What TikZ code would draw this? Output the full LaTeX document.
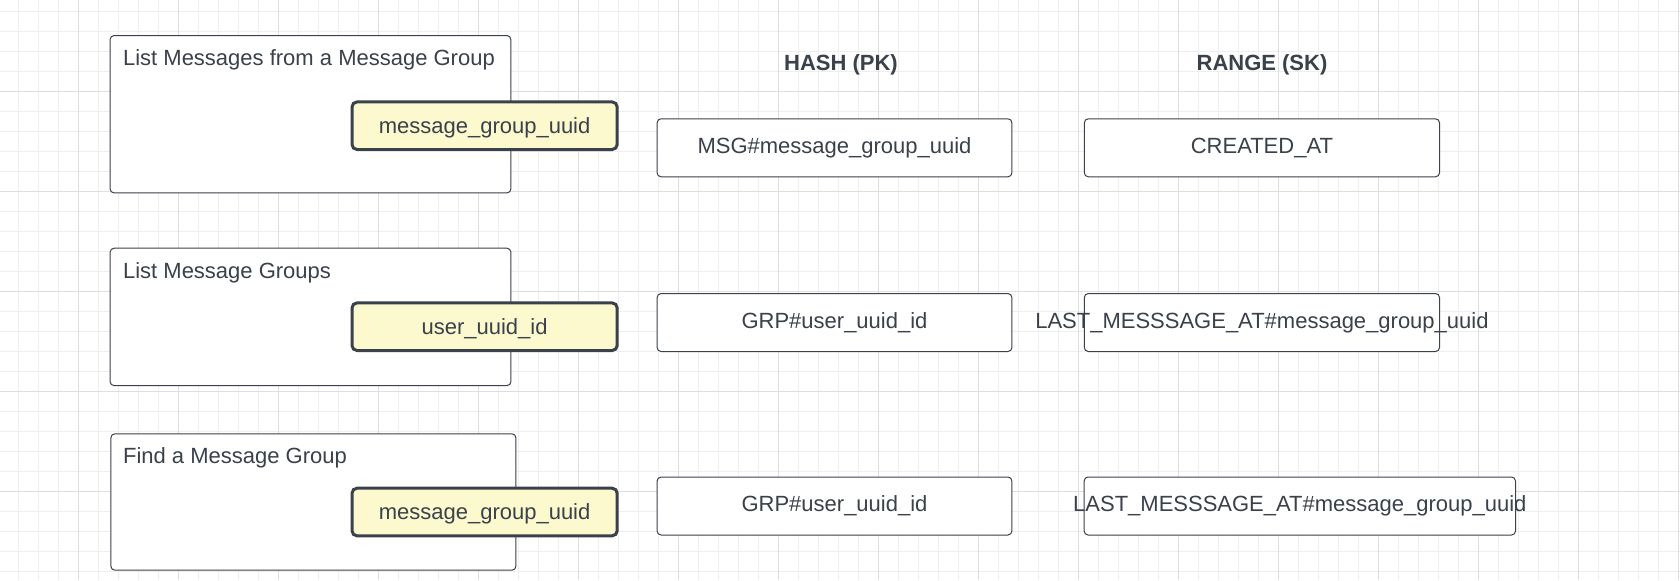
\documentclass[tikz,border=0pt]{standalone}
\usepackage{fontspec}
\setmainfont{Liberation Sans}
\usetikzlibrary{positioning}
\definecolor{ink}{HTML}{3A414A}
\definecolor{note}{HTML}{FCF9CF}
\definecolor{minorgrid}{HTML}{EEEEEE}
\definecolor{majorgrid}{HTML}{DEDEDE}
\tikzset{
    txt/.style={text=ink, inner sep=0pt, text height=8pt, text depth=2.5pt,
        font=\fontsize{11pt}{13pt}\selectfont},
    query/.style={draw=ink, line width=0.5pt, rounded corners=2pt, fill=white, inner sep=0pt},
    keybox/.style={txt, draw=ink, line width=1.5pt, rounded corners=2.5pt, fill=note,
        text height=9pt, text depth=1.5pt,
        minimum width=132.6pt, minimum height=23.8pt},
    attr/.style={txt, draw=ink, line width=0.5pt, rounded corners=2pt, fill=white,
        minimum height=29pt},
}

\begin{document}
\begin{tikzpicture}[x=0.5pt, y=-0.5pt]
        \useasboundingbox[fill=white] (0,0) rectangle (1680,580);
        % grid
        \foreach \gx in {18.6,38.6,...,1680} \draw[minorgrid, line width=0.5pt] (\gx,0) -- (\gx,580);
        \foreach \gy in {11.7,31.7,...,580} \draw[minorgrid, line width=0.5pt] (0,\gy) -- (1680,\gy);
        \foreach \gx in {78.6,178.6,...,1680} \draw[majorgrid, line width=0.5pt] (\gx,0) -- (\gx,580);
        \foreach \gy in {91.7,191.7,...,580} \draw[majorgrid, line width=0.5pt] (0,\gy) -- (1680,\gy);

        \node[txt, font=\fontsize{11pt}{13pt}\selectfont\bfseries] (hash) at (841,65.2) {HASH (PK)};
        \node[txt, font=\fontsize{11pt}{13pt}\selectfont\bfseries] (range) at (1262,65.2) {RANGE (SK)};

        \node[query, minimum width=200.4pt, minimum height=78.7pt] (b1) at (310.5,114.2) {};
        \node[query, minimum width=200.4pt, minimum height=68.7pt] (b2) at (310.5,316.9) {};
        \node[query, minimum width=202.5pt, minimum height=68.2pt] (b3) at (313.4,502) {};
        \node[txt, anchor=west] (t1) at (122.7,60.2) {List Messages from a Message Group};
        \node[txt, anchor=west] (t2) at (122.7,272.8) {List Message Groups};
        \node[txt, anchor=west] (t3) at (122.7,457.8) {Find a Message Group};

        \node[keybox] (k1) at (484.6,125.7) {message\_group\_uuid};
        \node[keybox] (k2) at (484.6,326.7) {user\_uuid\_id};
        \node[keybox] (k3) at (484.6,512) {message\_group\_uuid};

        \node[attr, minimum width=177.4pt] (h1) at (834.5,147.8) {MSG\#message\_group\_uuid};
        \node[attr, minimum width=177.4pt] (h2) at (834.5,322.5) {GRP\#user\_uuid\_id};
        \node[attr, minimum width=177.4pt] (h3) at (834.5,506) {GRP\#user\_uuid\_id};

        \node[attr, minimum width=177.6pt] (r1) at (1261.9,147.8) {CREATED\_AT};
        \node[attr, minimum width=177.6pt] (r2) at (1261.9,322.5) {};
        \node[attr, minimum width=215.7pt] (r3) at (1299.8,506) {};
        \node[txt] (r2t) at (r2) {LAST\_MESSSAGE\_AT\#message\_group\_uuid};
        \node[txt] (r3t) at (r3) {LAST\_MESSSAGE\_AT\#message\_group\_uuid};
    \end{tikzpicture}
\end{document}
